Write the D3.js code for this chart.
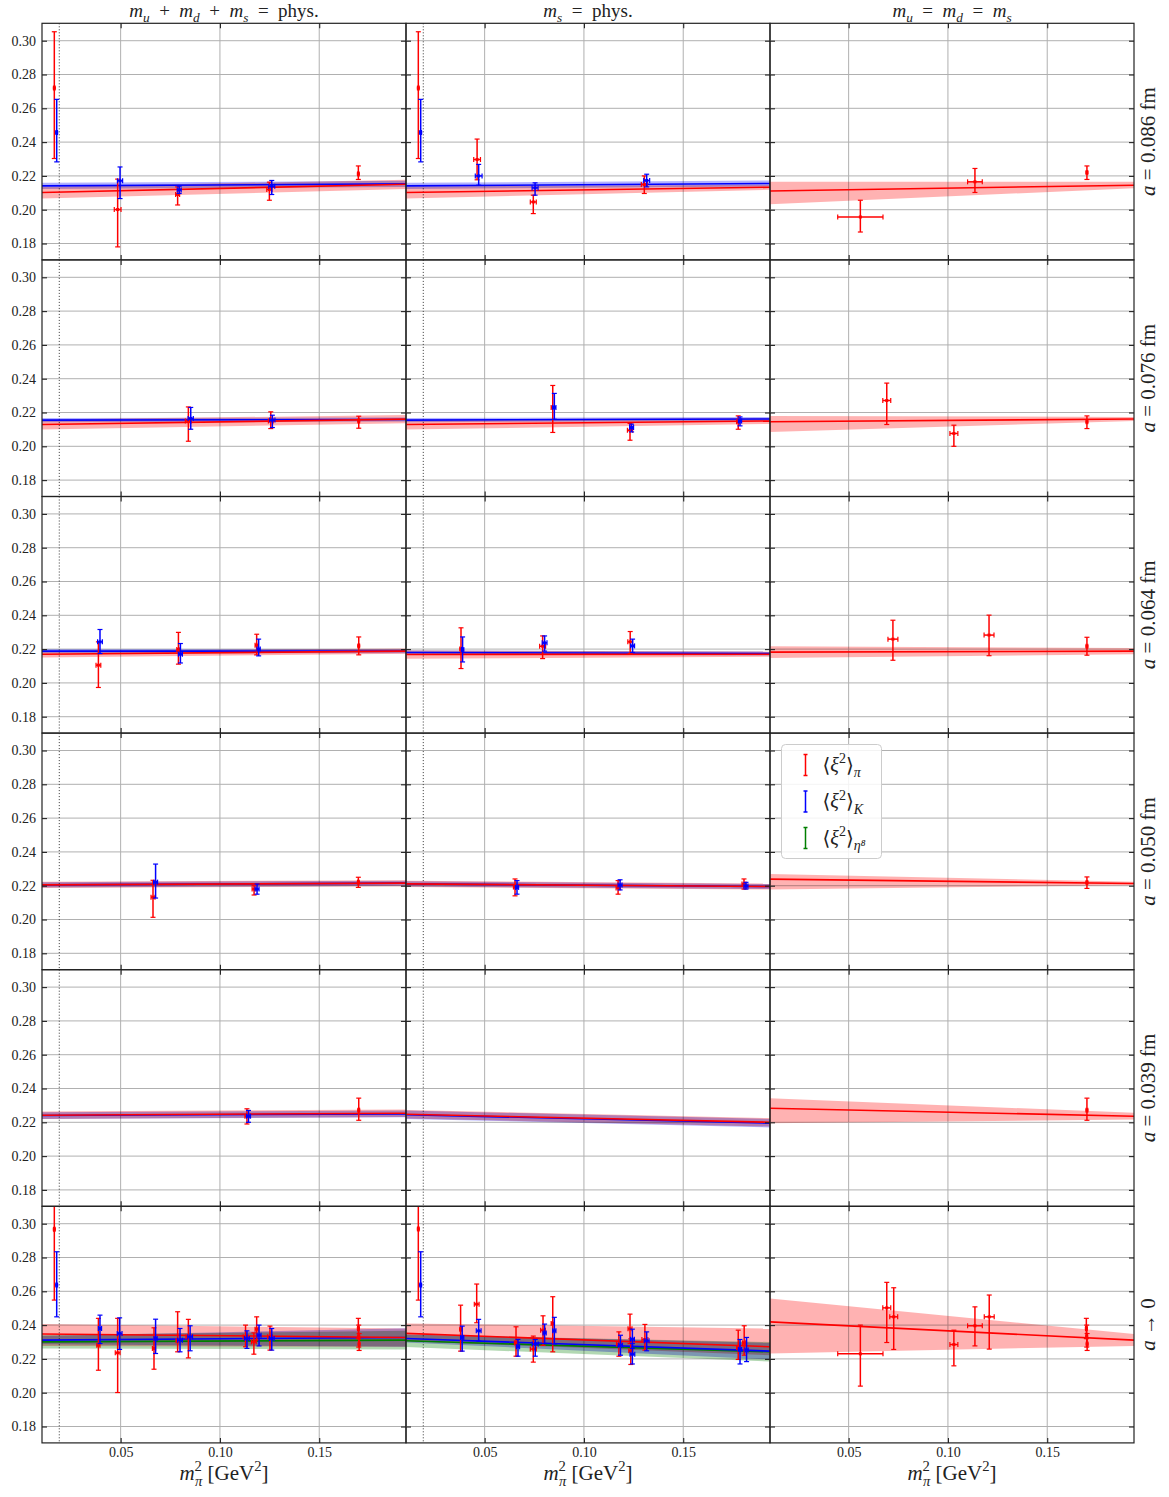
<!DOCTYPE html>
<meta charset="utf-8">
<style>
body { margin: 0; background: #fff; }
text { font-family: "Liberation Serif", "DejaVu Serif", serif; fill: #222; }
.grid line { stroke: #b0b0b0; stroke-width: 1; }
.frame { fill: none; stroke: #222; stroke-width: 1.2; }
.band { mix-blend-mode: multiply; }
</style>
<body>
<script src="https://d3js.org/d3.v7.min.js"></script>
<script>

// axes ranges and ticks
var xDomain = [0.0104, 0.1937],
    yDomain = [0.1703, 0.3103],
    xTicks = [0.05, 0.10, 0.15],
    yTicks = [0.18, 0.20, 0.22, 0.24, 0.26, 0.28, 0.30],
    mPiPhys2 = 0.0191;

// column titles and row labels (segments: text, flags i=italic b=sub p=sup)
var colTitles = [
  [["m","i"],["u","ib"],["  +  ",""],["m","i"],["d","ib"],["  +  ",""],["m","i"],["s","ib"],["  =  phys.",""]],
  [["m","i"],["s","ib"],["  =  phys.",""]],
  [["m","i"],["u","ib"],["  =  ",""],["m","i"],["d","ib"],["  =  ",""],["m","i"],["s","ib"]]
];
var rowLabels = ["= 0.086 fm", "= 0.076 fm", "= 0.064 fm", "= 0.050 fm", "= 0.039 fm", "\u2192 0"];

// points: [column, x, xerr, y, yLow, yHigh]
var pi086 = [
  [0, 0.0166, 0.0004, 0.2720, 0.2303, 0.3053],
  [0, 0.0485, 0.0017, 0.2001, 0.1780, 0.2181],
  [0, 0.0787, 0.0010, 0.2090, 0.2028, 0.2135],
  [0, 0.1249, 0.0013, 0.2120, 0.2056, 0.2163],
  [0, 0.1697, 0.0004, 0.2212, 0.2179, 0.2259],
  [1, 0.0166, 0.0004, 0.2720, 0.2303, 0.3053],
  [1, 0.0462, 0.0017, 0.2297, 0.2177, 0.2418],
  [1, 0.0745, 0.0015, 0.2046, 0.1977, 0.2086],
  [1, 0.1304, 0.0015, 0.2149, 0.2096, 0.2200],
  [2, 0.0559, 0.0114, 0.1957, 0.1868, 0.2056],
  [2, 0.1136, 0.0037, 0.2165, 0.2102, 0.2244],
  [2, 0.1700, 0.0004, 0.2220, 0.2179, 0.2259]
];
var K086 = [
  [0, 0.0178, 0.0004, 0.2457, 0.2283, 0.2653],
  [0, 0.0497, 0.0013, 0.2171, 0.2066, 0.2253],
  [0, 0.0795, 0.0010, 0.2117, 0.2096, 0.2139],
  [0, 0.1261, 0.0015, 0.2139, 0.2090, 0.2173],
  [1, 0.0178, 0.0004, 0.2457, 0.2283, 0.2653],
  [1, 0.0470, 0.0017, 0.2200, 0.2145, 0.2268],
  [1, 0.0754, 0.0015, 0.2129, 0.2086, 0.2159],
  [1, 0.1316, 0.0015, 0.2173, 0.2135, 0.2210]
];
var pi076 = [
  [0, 0.0841, 0.0015, 0.2150, 0.2030, 0.2233],
  [0, 0.1256, 0.0012, 0.2150, 0.2105, 0.2204],
  [0, 0.1699, 0.0004, 0.2150, 0.2107, 0.2178],
  [1, 0.0843, 0.0008, 0.2230, 0.2082, 0.2360],
  [1, 0.1232, 0.0013, 0.2095, 0.2036, 0.2135],
  [1, 0.1777, 0.0008, 0.2145, 0.2101, 0.2180],
  [2, 0.0692, 0.0020, 0.2271, 0.2129, 0.2374],
  [2, 0.1030, 0.0020, 0.2076, 0.2000, 0.2125],
  [2, 0.1700, 0.0004, 0.2145, 0.2105, 0.2180]
];
var K076 = [
  [0, 0.0853, 0.0013, 0.2165, 0.2101, 0.2230],
  [0, 0.1264, 0.0013, 0.2155, 0.2111, 0.2184],
  [1, 0.0851, 0.0008, 0.2230, 0.2160, 0.2313],
  [1, 0.1240, 0.0010, 0.2111, 0.2085, 0.2131],
  [1, 0.1786, 0.0008, 0.2150, 0.2121, 0.2174]
];
var pi064 = [
  [0, 0.0388, 0.0012, 0.2105, 0.1973, 0.2243],
  [0, 0.0791, 0.0008, 0.2198, 0.2111, 0.2299],
  [0, 0.1185, 0.0008, 0.2223, 0.2166, 0.2288],
  [0, 0.1699, 0.0004, 0.2219, 0.2166, 0.2272],
  [1, 0.0381, 0.0006, 0.2200, 0.2085, 0.2326],
  [1, 0.0792, 0.0015, 0.2217, 0.2144, 0.2278],
  [1, 0.1233, 0.0012, 0.2243, 0.2174, 0.2304],
  [2, 0.0723, 0.0025, 0.2259, 0.2134, 0.2371],
  [2, 0.1207, 0.0025, 0.2283, 0.2161, 0.2401],
  [2, 0.1700, 0.0004, 0.2217, 0.2164, 0.2270]
];
var K064 = [
  [0, 0.0396, 0.0012, 0.2243, 0.2174, 0.2316],
  [0, 0.0801, 0.0010, 0.2170, 0.2118, 0.2233],
  [0, 0.1195, 0.0008, 0.2200, 0.2160, 0.2259],
  [1, 0.0389, 0.0006, 0.2198, 0.2124, 0.2272],
  [1, 0.0802, 0.0012, 0.2237, 0.2188, 0.2278],
  [1, 0.1245, 0.0010, 0.2219, 0.2180, 0.2259]
];
var pi050 = [
  [0, 0.0663, 0.0010, 0.2132, 0.2013, 0.2232],
  [0, 0.1172, 0.0010, 0.2180, 0.2145, 0.2200],
  [0, 0.1697, 0.0004, 0.2221, 0.2190, 0.2250],
  [1, 0.0653, 0.0008, 0.2192, 0.2140, 0.2240],
  [1, 0.1172, 0.0010, 0.2187, 0.2150, 0.2230],
  [1, 0.1806, 0.0010, 0.2210, 0.2180, 0.2240],
  [2, 0.1700, 0.0004, 0.2219, 0.2184, 0.2252]
];
var K050 = [
  [0, 0.0676, 0.0010, 0.2221, 0.2127, 0.2328],
  [0, 0.1187, 0.0010, 0.2180, 0.2150, 0.2210],
  [1, 0.0663, 0.0008, 0.2190, 0.2150, 0.2230],
  [1, 0.1182, 0.0010, 0.2204, 0.2175, 0.2235],
  [1, 0.1816, 0.0010, 0.2198, 0.2180, 0.2220]
];
var pi039 = [
  [0, 0.1136, 0.0010, 0.2236, 0.2190, 0.2280],
  [0, 0.1699, 0.0004, 0.2272, 0.2212, 0.2343],
  [2, 0.1700, 0.0004, 0.2272, 0.2212, 0.2343]
];
var K039 = [
  [0, 0.1144, 0.0010, 0.2236, 0.2200, 0.2270]
];
var pi000 = [
  [0, 0.0166, 0.0004, 0.2967, 0.2548, 0.3386],
  [0, 0.0388, 0.0008, 0.2281, 0.2133, 0.2440],
  [0, 0.0485, 0.0012, 0.2236, 0.2001, 0.2440],
  [0, 0.0668, 0.0008, 0.2262, 0.2139, 0.2384],
  [0, 0.0787, 0.0008, 0.2307, 0.2242, 0.2479],
  [0, 0.0841, 0.0012, 0.2331, 0.2206, 0.2434],
  [0, 0.1129, 0.0012, 0.2331, 0.2272, 0.2400],
  [0, 0.1171, 0.0012, 0.2301, 0.2228, 0.2354],
  [0, 0.1185, 0.0008, 0.2376, 0.2311, 0.2449],
  [0, 0.1252, 0.0012, 0.2331, 0.2252, 0.2394],
  [0, 0.1697, 0.0004, 0.2380, 0.2320, 0.2440],
  [0, 0.1699, 0.0004, 0.2331, 0.2270, 0.2400],
  [0, 0.1701, 0.0004, 0.2288, 0.2250, 0.2350],
  [1, 0.0166, 0.0004, 0.2969, 0.2548, 0.3390],
  [1, 0.0379, 0.0004, 0.2376, 0.2246, 0.2518],
  [1, 0.0460, 0.0012, 0.2524, 0.2414, 0.2643],
  [1, 0.0658, 0.0008, 0.2295, 0.2216, 0.2390],
  [1, 0.0745, 0.0015, 0.2258, 0.2181, 0.2335],
  [1, 0.0794, 0.0012, 0.2370, 0.2280, 0.2455],
  [1, 0.0843, 0.0008, 0.2410, 0.2242, 0.2568],
  [1, 0.1176, 0.0012, 0.2288, 0.2216, 0.2360],
  [1, 0.1232, 0.0010, 0.2378, 0.2291, 0.2465],
  [1, 0.1236, 0.0010, 0.2248, 0.2167, 0.2319],
  [1, 0.1307, 0.0015, 0.2315, 0.2252, 0.2404],
  [1, 0.1777, 0.0008, 0.2268, 0.2197, 0.2370],
  [1, 0.1807, 0.0008, 0.2295, 0.2222, 0.2396],
  [2, 0.0559, 0.0114, 0.2230, 0.2039, 0.2400],
  [2, 0.0692, 0.0020, 0.2502, 0.2297, 0.2653],
  [2, 0.0727, 0.0020, 0.2449, 0.2256, 0.2621],
  [2, 0.1030, 0.0020, 0.2285, 0.2159, 0.2370],
  [2, 0.1136, 0.0037, 0.2396, 0.2277, 0.2508],
  [2, 0.1208, 0.0025, 0.2449, 0.2258, 0.2578],
  [2, 0.1697, 0.0004, 0.2380, 0.2320, 0.2440],
  [2, 0.1699, 0.0004, 0.2331, 0.2270, 0.2400],
  [2, 0.1701, 0.0004, 0.2288, 0.2250, 0.2350]
];
var K000 = [
  [0, 0.0178, 0.0004, 0.2637, 0.2449, 0.2834],
  [0, 0.0396, 0.0008, 0.2380, 0.2291, 0.2459],
  [0, 0.0495, 0.0012, 0.2351, 0.2256, 0.2443],
  [0, 0.0676, 0.0008, 0.2321, 0.2232, 0.2435],
  [0, 0.0799, 0.0012, 0.2311, 0.2242, 0.2380],
  [0, 0.0850, 0.0012, 0.2331, 0.2248, 0.2396],
  [0, 0.1136, 0.0012, 0.2321, 0.2262, 0.2366],
  [0, 0.1197, 0.0010, 0.2340, 0.2277, 0.2400],
  [0, 0.1261, 0.0012, 0.2321, 0.2252, 0.2380],
  [1, 0.0178, 0.0004, 0.2637, 0.2449, 0.2834],
  [1, 0.0387, 0.0008, 0.2327, 0.2246, 0.2394],
  [1, 0.0470, 0.0012, 0.2366, 0.2305, 0.2434],
  [1, 0.0668, 0.0008, 0.2272, 0.2216, 0.2315],
  [1, 0.0755, 0.0015, 0.2288, 0.2216, 0.2315],
  [1, 0.0802, 0.0008, 0.2354, 0.2291, 0.2406],
  [1, 0.0851, 0.0008, 0.2366, 0.2288, 0.2446],
  [1, 0.1184, 0.0010, 0.2281, 0.2222, 0.2340],
  [1, 0.1244, 0.0010, 0.2317, 0.2262, 0.2376],
  [1, 0.1244, 0.0012, 0.2228, 0.2170, 0.2291],
  [1, 0.1316, 0.0012, 0.2307, 0.2248, 0.2360],
  [1, 0.1786, 0.0008, 0.2256, 0.2170, 0.2315],
  [1, 0.1819, 0.0008, 0.2252, 0.2184, 0.2327]
];

// fits: [column, species, y at left, y at right, low left, high left, low right, high right]
var fit086 = [
  [0, "pi", 0.2102, 0.2151, 0.2066, 0.2135, 0.2122, 0.2178],
  [0, "K",  0.2141, 0.2153, 0.2123, 0.2159, 0.2135, 0.2171],
  [1, "pi", 0.2102, 0.2133, 0.2066, 0.2138, 0.2118, 0.2148],
  [1, "K",  0.2141, 0.2155, 0.2123, 0.2159, 0.2137, 0.2173],
  [2, "pi", 0.2111, 0.2145, 0.2032, 0.2165, 0.2127, 0.2165]
];
var fit076 = [
  [0, "pi", 0.2129, 0.2161, 0.2099, 0.2159, 0.2137, 0.2185],
  [0, "K",  0.2155, 0.2159, 0.2143, 0.2167, 0.2147, 0.2171],
  [1, "pi", 0.2129, 0.2150, 0.2099, 0.2159, 0.2132, 0.2168],
  [1, "K",  0.2155, 0.2162, 0.2143, 0.2167, 0.2150, 0.2174],
  [2, "pi", 0.2145, 0.2162, 0.2085, 0.2180, 0.2150, 0.2174]
];
var fit064 = [
  [0, "pi", 0.2170, 0.2188, 0.2150, 0.2190, 0.2173, 0.2203],
  [0, "K",  0.2188, 0.2188, 0.2176, 0.2200, 0.2176, 0.2200],
  [1, "pi", 0.2168, 0.2170, 0.2143, 0.2193, 0.2155, 0.2185],
  [1, "K",  0.2180, 0.2174, 0.2168, 0.2192, 0.2162, 0.2186],
  [2, "pi", 0.2182, 0.2188, 0.2147, 0.2217, 0.2170, 0.2206]
];
var fit050 = [
  [0, "pi", 0.2205, 0.2215, 0.2187, 0.2223, 0.2197, 0.2233],
  [0, "K",  0.2205, 0.2215, 0.2190, 0.2220, 0.2200, 0.2230],
  [1, "pi", 0.2211, 0.2195, 0.2193, 0.2229, 0.2177, 0.2213],
  [1, "K",  0.2211, 0.2195, 0.2196, 0.2226, 0.2180, 0.2210],
  [2, "pi", 0.2239, 0.2213, 0.2178, 0.2269, 0.2203, 0.2223]
];
var fit039 = [
  [0, "pi", 0.2242, 0.2254, 0.2220, 0.2264, 0.2232, 0.2276],
  [0, "K",  0.2240, 0.2250, 0.2220, 0.2260, 0.2230, 0.2270],
  [1, "pi", 0.2248, 0.2200, 0.2223, 0.2273, 0.2175, 0.2225],
  [1, "K",  0.2245, 0.2195, 0.2220, 0.2270, 0.2170, 0.2220],
  [2, "pi", 0.2283, 0.2236, 0.2194, 0.2343, 0.2216, 0.2256]
];
var fit000 = [
  [0, "pi",  0.2347, 0.2327, 0.2277, 0.2406, 0.2272, 0.2380],
  [0, "K",   0.2311, 0.2327, 0.2287, 0.2335, 0.2272, 0.2382],
  [0, "eta", 0.2301, 0.2311, 0.2261, 0.2341, 0.2256, 0.2366],
  [1, "pi",  0.2351, 0.2272, 0.2305, 0.2410, 0.2222, 0.2380],
  [1, "K",   0.2321, 0.2246, 0.2297, 0.2345, 0.2197, 0.2295],
  [1, "eta", 0.2307, 0.2242, 0.2270, 0.2344, 0.2185, 0.2300],
  [2, "pi",  0.2419, 0.2311, 0.2232, 0.2558, 0.2277, 0.2347]
];

var colors = {pi: "#ff0000", K: "#0000ff", eta: "#007f00"};

var rows = [
  {pi: pi086, K: K086, fits: fit086},
  {pi: pi076, K: K076, fits: fit076},
  {pi: pi064, K: K064, fits: fit064},
  {pi: pi050, K: K050, fits: fit050},
  {pi: pi039, K: K039, fits: fit039},
  {pi: pi000, K: K000, fits: fit000}
];

// layout
var colLeft = [42, 406, 770], colW = 364,
    rowTop0 = 23.3, rowH = 236.6;

var svg = d3.select("body").append("svg")
    .attr("width", 1169).attr("height", 1497);
svg.append("rect").attr("width", 1169).attr("height", 1497).attr("fill", "#fff");

// rich text helper: flags i italic, b subscript, p superscript
function rich(t, segs, fs) {
  var shift = 0;
  segs.forEach(function(s) {
    var f = s[1], target = f.indexOf("b") >= 0 ? fs * 0.28 : f.indexOf("p") >= 0 ? -fs * 0.42 : 0;
    var ts = t.append("tspan").text(s[0]).attr("dy", target - shift);
    if (s[2]) ts.attr("dx", s[2]);
    shift = target;
    if (target !== 0) ts.attr("font-size", fs * 0.7);
    if (f.indexOf("i") >= 0) ts.attr("font-style", "italic");
  });
}

rows.forEach(function(row, r) {
  var top = rowTop0 + r * rowH;
  var y = d3.scaleLinear().domain(yDomain).range([top + rowH, top]);

  [0, 1, 2].forEach(function(c) {
    var left = colLeft[c];
    var x = d3.scaleLinear().domain(xDomain).range([left, left + colW]);
    var g = svg.append("g");
    var cid = "clip" + r + "_" + c;
    svg.append("clipPath").attr("id", cid).append("rect")
        .attr("x", left).attr("y", top).attr("width", colW).attr("height", rowH);
    var p = g.append("g").attr("clip-path", "url(#" + cid + ")");

    // grid
    var grid = p.append("g").attr("class", "grid");
    grid.selectAll(".gx").data(xTicks).enter().append("line")
        .attr("x1", x).attr("x2", x).attr("y1", top).attr("y2", top + rowH);
    grid.selectAll(".gy").data(yTicks).enter().append("line")
        .attr("y1", y).attr("y2", y).attr("x1", left).attr("x2", left + colW);

    // physical pion mass
    if (c < 2) {
      p.append("line")
          .attr("x1", x(mPiPhys2)).attr("x2", x(mPiPhys2))
          .attr("y1", top).attr("y2", top + rowH)
          .attr("stroke", "#333").attr("stroke-width", 1).attr("stroke-dasharray", "1,2");
    }

    var fits = row.fits.filter(function(f) { return f[0] === c; });
    var area = d3.area()
        .x(function(d) { return x(d[0]); })
        .y0(function(d) { return y(d[1]); })
        .y1(function(d) { return y(d[2]); });
    fits.forEach(function(f) {
      p.append("path").attr("class", "band")
          .datum([[xDomain[0], f[4], f[5]], [xDomain[1], f[6], f[7]]])
          .attr("d", area)
          .attr("fill", colors[f[1]]).attr("fill-opacity", 0.3);
    });
    fits.slice().reverse().forEach(function(f) {
      p.append("line")
          .attr("x1", x(xDomain[0])).attr("x2", x(xDomain[1]))
          .attr("y1", y(f[2])).attr("y2", y(f[3]))
          .attr("stroke", colors[f[1]]).attr("stroke-width", 1.6);
    });

    // error bars
    ["pi", "K"].forEach(function(sp) {
      var pts = row[sp].filter(function(d) { return d[0] === c; });
      var eb = p.append("g").attr("stroke", colors[sp]).attr("fill", colors[sp]).attr("stroke-width", 1.5);
      pts.forEach(function(d) {
        var px = x(d[1]), py = y(d[3]);
        eb.append("line").attr("x1", px).attr("x2", px).attr("y1", y(d[4])).attr("y2", y(d[5]));
        eb.append("line").attr("x1", px - 2.5).attr("x2", px + 2.5).attr("y1", y(d[4])).attr("y2", y(d[4])).attr("stroke-width", 1.2);
        eb.append("line").attr("x1", px - 2.5).attr("x2", px + 2.5).attr("y1", y(d[5])).attr("y2", y(d[5])).attr("stroke-width", 1.2);
        var xl = x(d[1] - d[2]), xr = x(d[1] + d[2]);
        eb.append("line").attr("x1", xl).attr("x2", xr).attr("y1", py).attr("y2", py);
        eb.append("line").attr("x1", xl).attr("x2", xl).attr("y1", py - 2.5).attr("y2", py + 2.5).attr("stroke-width", 1.2);
        eb.append("line").attr("x1", xr).attr("x2", xr).attr("y1", py - 2.5).attr("y2", py + 2.5).attr("stroke-width", 1.2);
        eb.append("rect").attr("x", px - 1.5).attr("y", py - 1.5).attr("width", 3).attr("height", 3).attr("stroke", "none");
      });
    });

    // frame and inward ticks on all sides
    g.append("rect").attr("class", "frame")
        .attr("x", left).attr("y", top).attr("width", colW).attr("height", rowH);

    var ax = [
      [d3.axisBottom(x).tickValues(xTicks).tickFormat(r === 5 ? d3.format(".2f") : ""), 0, top + rowH],
      [d3.axisTop(x).tickValues(xTicks).tickFormat(""), 0, top],
      [d3.axisLeft(y).tickValues(yTicks).tickFormat(c === 0 ? d3.format(".2f") : ""), left, 0],
      [d3.axisRight(y).tickValues(yTicks).tickFormat(""), left + colW, 0]
    ];
    ax.forEach(function(a, i) {
      var ag = g.append("g").attr("transform", "translate(" + a[1] + "," + a[2] + ")")
          .call(a[0].tickSize(-5).tickPadding(i === 0 ? 4.5 : 6));
      ag.select(".domain").remove();
      ag.selectAll(".tick line").attr("stroke", "#222").attr("stroke-width", 1.1);
      ag.selectAll(".tick text")
          .attr("font-family", "Liberation Serif, DejaVu Serif, serif")
          .attr("font-size", 14).attr("fill", "#222");
    });
  });

  // row label on the right
  var lt = svg.append("text")
      .attr("transform", "translate(1155," + (top + rowH / 2) + ") rotate(-90)")
      .attr("text-anchor", "middle").attr("font-size", 21);
  rich(lt, [["a", "i"], [" " + rowLabels[r], ""]], 21);
});

// column titles and x labels
colLeft.forEach(function(left, c) {
  var t = svg.append("text").attr("x", left + colW / 2).attr("y", 17)
      .attr("text-anchor", "middle").attr("font-size", 19)
      .attr("style", "white-space: pre");
  rich(t, colTitles[c], 19);
  var xl = svg.append("text").attr("x", left + colW / 2).attr("y", 1480)
      .attr("text-anchor", "middle").attr("font-size", 21);
  rich(xl, [["m", "i"], ["2", "p"], ["\u03c0", "ib", -7], [" [GeV", ""], ["2", "p"], ["]", ""]], 21);
});

// legend
var legendItems = [
  ["pi", [["\u27e8", ""], ["\u03be", "i"], ["2", "p"], ["\u27e9", ""], ["\u03c0", "ib"]]],
  ["K", [["\u27e8", ""], ["\u03be", "i"], ["2", "p"], ["\u27e9", ""], ["K", "ib"]]],
  ["eta", [["\u27e8", ""], ["\u03be", "i"], ["2", "p"], ["\u27e9", ""], ["\u03b7\u2078", "ib"]]]
];
var lg = svg.append("g").attr("transform", "translate(781.5,744.5)");
lg.append("rect").attr("width", 100).attr("height", 114).attr("rx", 4)
    .attr("fill", "#fff").attr("fill-opacity", 0.85).attr("stroke", "#ccc");
legendItems.forEach(function(it, i) {
  var cy = 20 + i * 36.5;
  var e = lg.append("g").attr("stroke", colors[it[0]]).attr("stroke-width", 1.5);
  e.append("line").attr("x1", 24).attr("x2", 24).attr("y1", cy - 10).attr("y2", cy + 11);
  e.append("line").attr("x1", 22).attr("x2", 26).attr("y1", cy - 10).attr("y2", cy - 10);
  e.append("line").attr("x1", 22).attr("x2", 26).attr("y1", cy + 11).attr("y2", cy + 11);
  var t = lg.append("text").attr("x", 41).attr("y", cy + 7).attr("font-size", 20);
  rich(t, it[1], 20);
});

</script>
</body>
